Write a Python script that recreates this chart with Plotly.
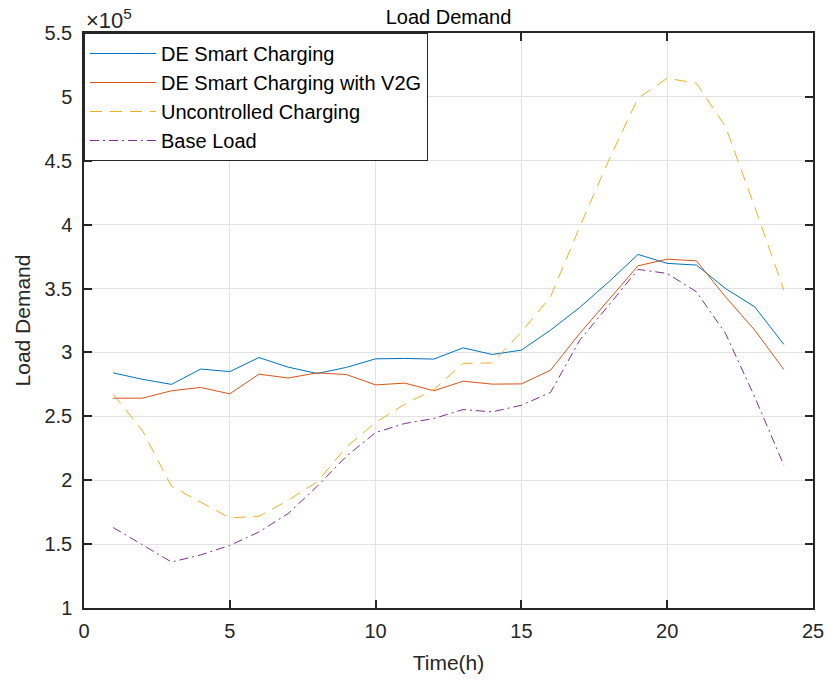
import plotly.graph_objects as go

hours = list(range(1, 25))
de_smart = [2.84, 2.79, 2.75, 2.87, 2.85, 2.96, 2.885, 2.835, 2.883, 2.95, 2.953, 2.948,
            3.036, 2.984, 3.018, 3.175, 3.352, 3.553, 3.767, 3.697, 3.684, 3.50, 3.357, 3.063]
de_v2g = [2.642, 2.642, 2.70, 2.726, 2.676, 2.83, 2.80, 2.84, 2.827, 2.746, 2.76, 2.70,
          2.775, 2.752, 2.754, 2.861, 3.149, 3.41, 3.678, 3.73, 3.717, 3.435, 3.175, 2.866]
uncontrolled = [2.673, 2.39, 1.953, 1.83, 1.705, 1.718, 1.843, 1.987, 2.26, 2.452, 2.595, 2.71,
                2.914, 2.918, 3.16, 3.435, 3.983, 4.506, 4.99, 5.146, 5.107, 4.767, 4.14, 3.488]
base_load = [1.63, 1.496, 1.36, 1.415, 1.49, 1.595, 1.739, 1.953, 2.188, 2.373, 2.444, 2.483,
             2.553, 2.535, 2.587, 2.687, 3.096, 3.37, 3.65, 3.618, 3.475, 3.149, 2.652, 2.117]
scale = 1e5
y_ticks = [1, 1.5, 2, 2.5, 3, 3.5, 4, 4.5, 5, 5.5]
y_tick_text = ["1", "1.5", "2", "2.5", "3", "3.5", "4", "4.5", "5", "5.5"]
x_ticks = [0, 5, 10, 15, 20, 25]

series = [
    ("DE Smart Charging", de_smart, "#0072BD", "solid"),
    ("DE Smart Charging with V2G", de_v2g, "#D95319", "solid"),
    ("Uncontrolled Charging", uncontrolled, "#EDB120", "12px,8px"),
    ("Base Load", base_load, "#7E2F8E", "9px,4px,2px,4px"),
]

fig = go.Figure()
for name, vals, color, dash in series:
    fig.add_trace(go.Scatter(
        x=hours, y=[v * scale for v in vals], mode="lines", name=name,
        line=dict(color=color, width=1, dash=dash),
    ))

font = "Liberation Sans, Arial, sans-serif"
axis_common = dict(
    showline=True, linecolor="#262626", linewidth=1.5, mirror="ticks",
    ticks="inside", ticklen=8, tickcolor="#262626", tickwidth=1.5,
    showgrid=True, gridcolor="#e3e3e3", gridwidth=1, zeroline=False,
    tickfont=dict(family=font, size=20, color="#262626"),
    automargin=False,
)

fig.update_layout(
    width=830, height=683,
    margin=dict(l=84, r=17, t=33, b=75),
    paper_bgcolor="white", plot_bgcolor="white",
    title=dict(text="Load Demand", x=0.5, xref="paper", xanchor="center",
               y=1, yref="paper", yanchor="bottom", pad=dict(b=9),
               font=dict(family=font, size=20, color="black")),
    xaxis=dict(range=[0, 25], tickvals=x_ticks,
               title=dict(text="Time(h)", font=dict(family=font, size=21, color="#262626"), standoff=15),
               ticklabelstandoff=4,
               **axis_common),
    yaxis=dict(range=[1 * scale, 5.5 * scale], tickvals=[t * scale for t in y_ticks], ticktext=y_tick_text,
               title=dict(text="Load Demand", font=dict(family=font, size=21, color="#262626"), standoff=8),
               ticklabelstandoff=6,
               **axis_common),
    legend=dict(x=0, y=1, xanchor="left", yanchor="top", bgcolor="white",
                bordercolor="#262626", borderwidth=1, itemwidth=66,
                font=dict(family=font, size=20, color="black"), tracegroupgap=0),
    showlegend=True,
)
fig.add_annotation(text="×10<sup>5</sup>", xref="paper", yref="paper", x=0, y=1,
                   xanchor="left", yanchor="bottom", showarrow=False, yshift=-2,
                   font=dict(family=font, size=22, color="#262626"))

fig.write_html("out.html", config={"displayModeBar": False},
               post_script="document.body.style.margin='0';")
